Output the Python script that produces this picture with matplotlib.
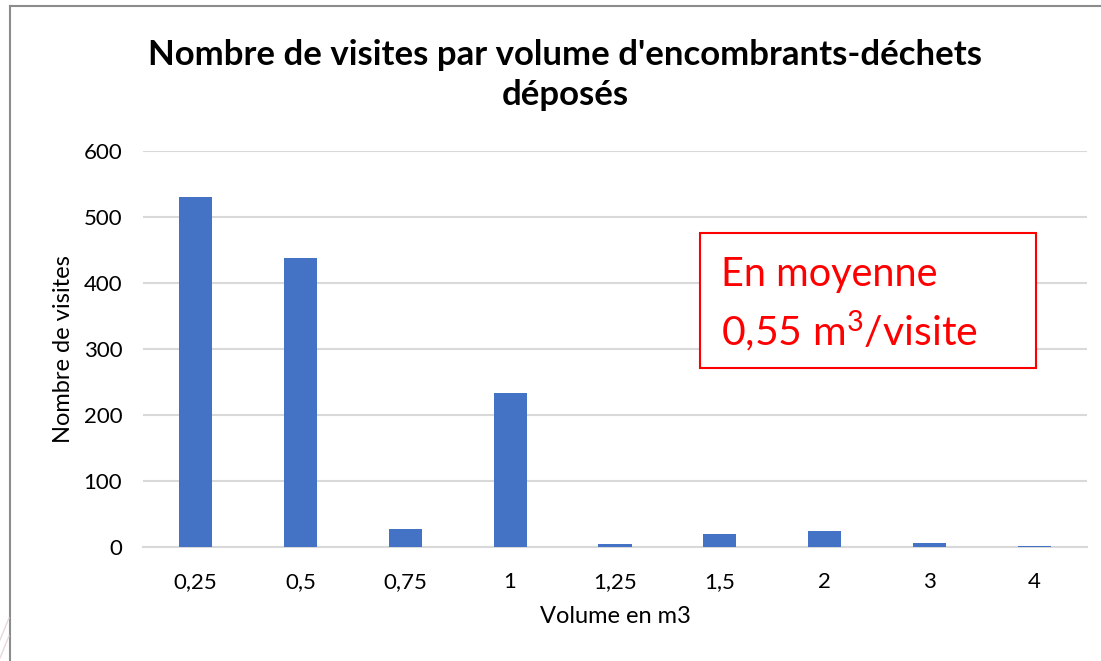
import numpy as np
import matplotlib
matplotlib.use('Agg')
import matplotlib.pyplot as plt
from matplotlib.lines import Line2D
from matplotlib.patches import Rectangle

# data
volumes = ['0,25', '0,5', '0,75', '1', '1,25', '1,5', '2', '3', '4']
visites = [531, 438, 28, 233, 5, 20, 25, 6, 1]
y_ticks = [0, 100, 200, 300, 400, 500, 600]

plt.rcParams['font.family'] = ['Lato', 'DejaVu Sans']
plt.rcParams['mathtext.fontset'] = 'custom'
plt.rcParams['mathtext.rm'] = 'Lato'

fig = plt.figure(figsize=(11.01, 6.61), dpi=100)
ax = fig.add_axes([143/1101, 1 - 547/661, (1087 - 143)/1101, (547 - 151)/661])

x = np.arange(len(volumes))
ax.bar(x, visites, width=0.315, color='#4472C4', zorder=3)

ax.set_xlim(-0.5, len(volumes) - 0.5)
ax.set_ylim(0, 600)
ax.set_yticks(y_ticks)
ax.set_yticklabels([str(v) for v in y_ticks])
ax.set_xticks(x)
ax.set_xticklabels(volumes)
ax.yaxis.grid(True, color='#D9D9D9', linewidth=1.5, zorder=0)
for s in ['top', 'right', 'left']:
    ax.spines[s].set_visible(False)
ax.spines['bottom'].set_color('#D9D9D9')
ax.spines['bottom'].set_linewidth(1.5)
ax.tick_params(axis='both', length=0, labelsize=16, colors='#000000')
ax.tick_params(axis='y', pad=15)
ax.tick_params(axis='x', pad=18)

ax.set_ylabel('Nombre de visites', fontsize=17, labelpad=7)
ax.set_xlabel('Volume en m3', fontsize=17, labelpad=10)

fig.text(565/1101, 1 - 75/661, "Nombre de visites par volume d'encombrants-déchets\ndéposés",
         ha='center', va='center', fontsize=25, fontweight='bold', linespacing=1.3)

# red annotation box
box = Rectangle((700/1101, 1 - 368/661), 336/1101, 135/661, transform=fig.transFigure,
                facecolor='white', edgecolor='#FF0000', linewidth=1.5, zorder=5)
fig.add_artist(box)
fig.text(721/1101, 1 - 274/661, 'En moyenne', color='#FF0000', fontsize=28.5,
         ha='left', va='center', zorder=6)
fig.text(721/1101, 1 - 331/661, r'0,55 m$\mathregular{^3}$/visite', color='#FF0000', fontsize=29.5,
         ha='left', va='center', zorder=6)

# chart frame
fig.add_artist(Line2D([10/1101, 10/1101], [0, 1 - 6/661], color='#8C8C8C', linewidth=1.5))
fig.add_artist(Line2D([10/1101, 1], [1 - 6/661, 1 - 6/661], color='#8C8C8C', linewidth=1.5))
# faint decoration lines outside the frame
fig.add_artist(Line2D([0, 9/1101], [1 - 640/661, 1 - 618/661], color='#E8D8DC', linewidth=1))
fig.add_artist(Line2D([0, 9/1101], [1 - 658/661, 1 - 636/661], color='#E8D8DC', linewidth=1))

fig.savefig('out.png', dpi=100)
